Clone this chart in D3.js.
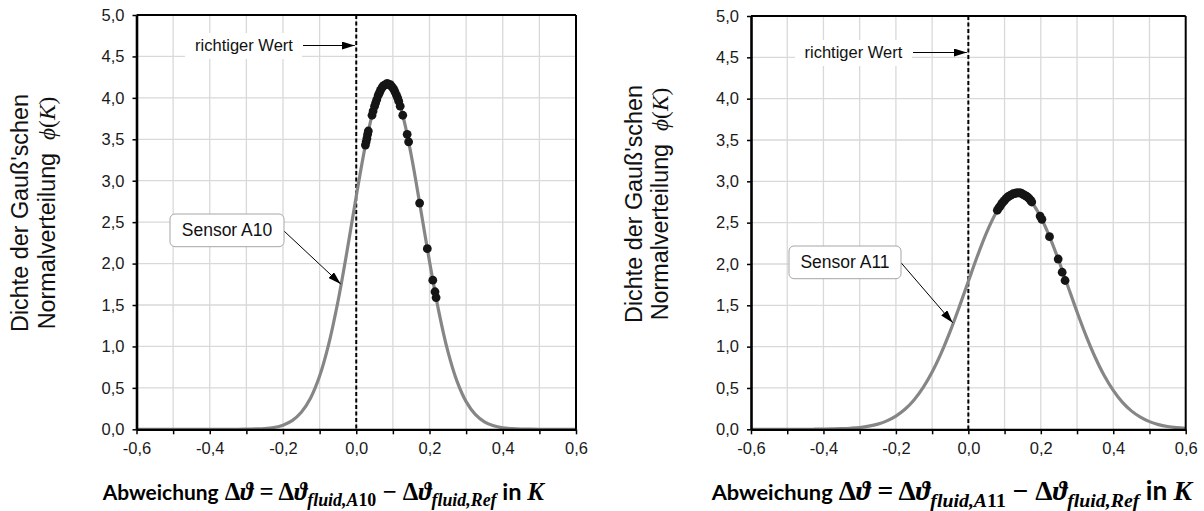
<!DOCTYPE html>
<html><head><meta charset="utf-8">
<script src="https://cdn.jsdelivr.net/npm/d3@7"></script>
<style>body{margin:0;background:#fff} svg{display:block} text{white-space:pre}</style>
</head><body><svg id="c" width="1204" height="511"></svg>
<script>
// ---------- data ----------
const curveX = [-0.6,-0.575,-0.55,-0.525,-0.5,-0.475,-0.45,-0.425,-0.4,-0.375,-0.35,-0.325,-0.3,-0.275,-0.25,-0.225,-0.2,-0.175,-0.15,-0.125,-0.1,-0.075,-0.05,-0.025,0,0.025,0.05,0.075,0.1,0.125,0.15,0.175,0.2,0.225,0.25,0.275,0.3,0.325,0.35,0.375,0.4,0.425,0.45,0.475,0.5,0.525,0.55,0.575,0.6];
const densityA10 = [0,0,0,0,0,0,0,0,0,0,0,0,0.001,0.004,0.009,0.022,0.05,0.104,0.205,0.375,0.643,1.031,1.542,2.154,2.811,3.426,3.90,4.147,4.119,3.821,3.311,2.68,2.026,1.43,0.943,0.581,0.334,0.18,0.09,0.042,0.018,0.008,0.003,0.001,0,0,0,0,0];
const densityA11 = [0,0,0,0,0,0,0,0.001,0.002,0.004,0.007,0.013,0.022,0.038,0.063,0.102,0.16,0.242,0.355,0.503,0.692,0.921,1.187,1.481,1.79,2.096,2.376,2.607,2.771,2.853,2.843,2.745,2.566,2.323,2.036,1.728,1.421,1.131,0.872,0.651,0.471,0.329,0.223,0.147,0.093,0.057,0.034,0.02,0.011];
const pointsA10X = [0.025,0.027,0.029,0.031,0.033,0.043,0.046,0.050,0.053,0.056,0.060,0.063,0.066,0.070,0.073,0.076,0.080,0.083,0.086,0.090,0.093,0.096,0.100,0.103,0.106,0.110,0.113,0.116,0.120,0.127,0.139,0.143,0.173,0.194,0.209,0.215,0.218];
const pointsA10Y = [3.43,3.47,3.51,3.56,3.60,3.79,3.84,3.90,3.94,3.98,4.03,4.06,4.09,4.12,4.14,4.15,4.16,4.17,4.17,4.16,4.16,4.14,4.12,4.10,4.07,4.03,4.00,3.96,3.90,3.79,3.56,3.47,2.73,2.18,1.80,1.66,1.59];
const pointsA11X = [0.080,0.084,0.088,0.092,0.096,0.100,0.104,0.108,0.112,0.116,0.120,0.124,0.128,0.132,0.136,0.140,0.144,0.148,0.152,0.156,0.160,0.164,0.168,0.172,0.175,0.198,0.203,0.224,0.248,0.259,0.267];
const pointsA11Y = [2.65,2.68,2.70,2.73,2.75,2.77,2.79,2.81,2.82,2.83,2.84,2.85,2.85,2.86,2.86,2.86,2.86,2.85,2.84,2.83,2.82,2.81,2.79,2.77,2.75,2.58,2.54,2.33,2.06,1.90,1.80];
const xTickValues = [-0.6,-0.5,-0.4,-0.3,-0.2,-0.1,0,0.1,0.2,0.3,0.4,0.5,0.6];
const xTickLabels = ["-0,6","","-0,4","","-0,2","","0,0","","0,2","","0,4","","0,6"];
const yTickValues = [0,0.5,1,1.5,2,2.5,3,3.5,4,4.5,5];
const yTickLabels = ["0,0","0,5","1,0","1,5","2,0","2,5","3,0","3,5","4,0","4,5","5,0"];
const sensorNames = ["A10","A11"];
const trueValue = 0;
const trueValueLabel = "richtiger Wert";
const yTitleLines = ["Dichte der Gauß'schen","Normalverteilung  "];

// ---------- drawing ----------
const svg = d3.select("#c");
const SANS = "'Liberation Sans', Arial, sans-serif";
const SERIF = "'Liberation Serif','DejaVu Serif',serif";
const BOLDSANS = "Lato, 'Open Sans', sans-serif";
const defs = svg.append("defs");
defs.append("marker").attr("id","ah").attr("markerUnits","userSpaceOnUse")
  .attr("markerWidth",13).attr("markerHeight",8).attr("refX",13).attr("refY",4).attr("orient","auto")
  .append("path").attr("d","M0,0 L13,4 L0,8 Z").attr("fill","#000");

const panels = [
 {sensor:sensorNames[0], curve:densityA10, px:pointsA10X, py:pointsA10Y, L:136.5, R:576, T:15, B:429.3,
  yTitleX:[28,55], yTitleCY:213, xTitle:[102.7,544,500,116],
  wert:{box:[185,33,117,26], tx:244, ty:45.5, a0:303, ay:45.5},
  sBox:[170,214,114,32.7], sArrow:[284,231,340.7,284]},
 {sensor:sensorNames[1], curve:densityA11, px:pointsA11X, py:pointsA11Y, L:751, R:1185.7, T:16, B:429.3,
  yTitleX:[642,668], yTitleCY:204, xTitle:[711.7,1192,500,121],
  wert:{box:[795,40,117,26], tx:853.4, ty:52.5, a0:913, ay:52.5},
  sBox:[789,246,112,32.7], sArrow:[901,262.7,952.7,322.7]}
];

panels.forEach(p => {
  const g = svg.append("g");
  const x = d3.scaleLinear().domain([-0.6,0.6]).range([p.L,p.R]);
  const y = d3.scaleLinear().domain([0,5]).range([p.B,p.T]);

  // grid
  g.append("g").selectAll("line").data(xTickValues.slice(1,-1)).join("line")
    .attr("x1",d=>x(d)).attr("x2",d=>x(d)).attr("y1",p.T).attr("y2",p.B)
    .attr("stroke","#d9d9d9").attr("stroke-width",1.3);
  g.append("g").selectAll("line").data(yTickValues.slice(1,-1)).join("line")
    .attr("y1",d=>y(d)).attr("y2",d=>y(d)).attr("x1",p.L).attr("x2",p.R)
    .attr("stroke","#d9d9d9").attr("stroke-width",1.3);

  // white label box for "richtiger Wert"
  const w = p.wert;
  g.append("rect").attr("x",w.box[0]).attr("y",w.box[1]).attr("width",w.box[2]).attr("height",w.box[3]).attr("fill","#fff");

  // true value dashed line
  g.append("line").attr("x1",x(trueValue)).attr("x2",x(trueValue)).attr("y1",p.T).attr("y2",p.B)
    .attr("stroke","#000").attr("stroke-width",2).attr("stroke-dasharray","4,2.5");

  // density curve
  const line = d3.line().x((d,i)=>x(curveX[i])).y(d=>y(d)).curve(d3.curveCatmullRom.alpha(0.5));
  g.append("path").attr("d",line(p.curve)).attr("fill","none").attr("stroke","#868686").attr("stroke-width",3.2);

  // measured points
  g.append("g").selectAll("circle").data(p.px).join("circle")
    .attr("cx",d=>x(d)).attr("cy",(d,i)=>y(p.py[i])).attr("r",4.4).attr("fill","#151515");

  // axes
  const ya = g.append("g").attr("transform",`translate(${p.L},0)`)
    .call(d3.axisLeft(y).tickValues(yTickValues).tickSize(4).tickSizeOuter(0).tickPadding(8)
      .tickFormat((d,i)=>yTickLabels[i]));
  const xa = g.append("g").attr("transform",`translate(0,${p.B})`)
    .call(d3.axisBottom(x).tickValues(xTickValues).tickSize(5).tickSizeOuter(0).tickPadding(8)
      .tickFormat((d,i)=>xTickLabels[i]));
  [ya,xa].forEach(a=>{
    a.attr("font-size",null).attr("font-family",null);
    a.selectAll("text").style("font-family",SANS).style("font-size","16.5px").attr("fill","#1a1a1a");
    a.selectAll(".tick line").attr("stroke","#000").attr("stroke-width",1.5);
  });
  ya.select(".domain").attr("stroke","#000").attr("stroke-width",2.6);
  xa.select(".domain").attr("stroke","#000").attr("stroke-width",2.2);
  g.append("line").attr("x1",p.L).attr("x2",p.R).attr("y1",p.T).attr("y2",p.T).attr("stroke","#000").attr("stroke-width",2);
  g.append("line").attr("x1",p.R).attr("x2",p.R).attr("y1",p.T).attr("y2",p.B).attr("stroke","#000").attr("stroke-width",2);

  // "richtiger Wert" annotation
  g.append("text").attr("x",w.tx).attr("y",w.ty).attr("dy","0.35em").attr("text-anchor","middle")
    .attr("font-family",SANS).attr("font-size",16.5).attr("fill","#111").text(trueValueLabel);
  g.append("line").attr("x1",w.a0).attr("x2",x(trueValue)-1.5).attr("y1",w.ay).attr("y2",w.ay)
    .attr("stroke","#000").attr("stroke-width",1.2).attr("marker-end","url(#ah)");

  // sensor label
  const b = p.sBox;
  g.append("line").attr("x1",p.sArrow[0]).attr("y1",p.sArrow[1]).attr("x2",p.sArrow[2]).attr("y2",p.sArrow[3])
    .attr("stroke","#000").attr("stroke-width",1).attr("marker-end","url(#ah)");
  g.append("rect").attr("x",b[0]).attr("y",b[1]).attr("width",b[2]).attr("height",b[3]).attr("rx",5)
    .attr("fill","#fff").attr("stroke","#a6a6a6").attr("stroke-width",1);
  g.append("text").attr("x",b[0]+b[2]/2).attr("y",b[1]+b[3]/2).attr("dy","0.35em").attr("text-anchor","middle")
    .attr("font-family",SANS).attr("font-size",17.5).attr("fill","#111").text("Sensor "+p.sensor);

  // y axis title (two rotated lines)
  const yt = g.append("g");
  function buildY(size){
    yt.selectAll("*").remove();
    const t1 = yt.append("text").attr("transform",`translate(${p.yTitleX[0]},${p.yTitleCY}) rotate(-90)`)
      .attr("text-anchor","middle").attr("font-family",SANS).attr("font-size",size).attr("fill","#111")
      .text(yTitleLines[0]);
    const t2 = yt.append("text").attr("transform",`translate(${p.yTitleX[1]},${p.yTitleCY}) rotate(-90)`)
      .attr("text-anchor","middle").attr("font-family",SANS).attr("font-size",size).attr("fill","#111");
    t2.append("tspan").text(yTitleLines[1]);
    t2.append("tspan").attr("font-family",SERIF).attr("font-style","italic").text("ϕ");
    t2.append("tspan").attr("font-family",SERIF).text("(");
    t2.append("tspan").attr("font-family",SERIF).attr("font-style","italic").text("K");
    t2.append("tspan").attr("font-family",SERIF).text(")");
    return t1;
  }
  let t1 = buildY(22);
  const l1 = t1.node().getComputedTextLength();
  buildY(22*238/l1);

  // x axis title: word "Abweichung" with fixed length, math part fitted to the remaining width
  const [x0,x1,base,wordLen] = p.xTitle;
  g.append("text").attr("x",x0).attr("y",base).attr("font-weight","bold")
    .attr("font-family",BOLDSANS).attr("font-size",21).attr("textLength",wordLen).attr("lengthAdjust","spacingAndGlyphs")
    .attr("fill","#000").text("Abweichung");
  const mx0 = x0 + wordLen + 6;
  const xt = g.append("g");
  function buildX(mS){
    xt.selectAll("*").remove();
    const t = xt.append("text").attr("x",mx0).attr("y",base).attr("font-weight","bold").attr("fill","#000");
    const sub = mS*0.72, sh = mS*0.24, sS = mS*0.95;
    const add = (s,fam,style,fs,dy)=>t.append("tspan").text(s).attr("font-family",fam).attr("font-style",style)
      .attr("font-size",fs).attr("dy",dy||0);
    add("Δ",SERIF,"normal",mS); add("ϑ",SERIF,"italic",mS);
    add(" = ",SERIF,"normal",mS);
    add("Δ",SERIF,"normal",mS); add("ϑ",SERIF,"italic",mS);
    add("fluid,"+p.sensor[0],SERIF,"italic",sub,sh); add(p.sensor.slice(1),SERIF,"normal",sub);
    add(" − ",SERIF,"normal",mS,-sh);
    add("Δ",SERIF,"normal",mS); add("ϑ",SERIF,"italic",mS);
    add("fluid,Ref",SERIF,"italic",sub,sh);
    add(" in ",BOLDSANS,"normal",sS,-sh);
    add("K",SERIF,"italic",mS);
    return t;
  }
  const tt = buildX(20);
  const lm = tt.node().getComputedTextLength();
  buildX(20*(x1-mx0)/lm);
});
</script></body></html>
